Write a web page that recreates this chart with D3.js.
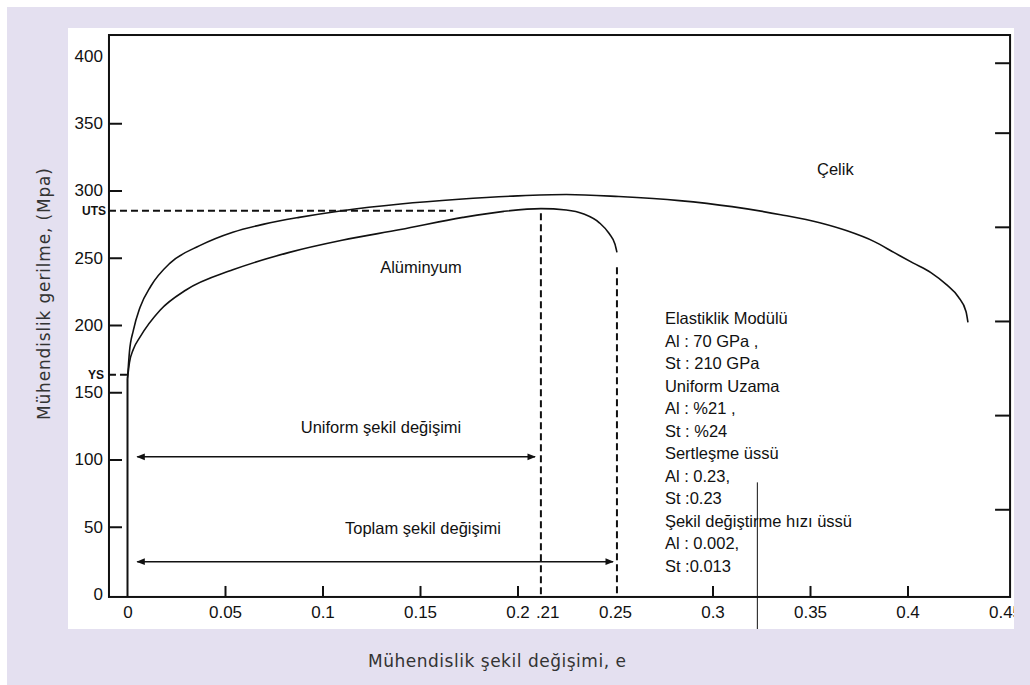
<!DOCTYPE html>
<html>
<head>
<meta charset="utf-8">
<title>Mühendislik gerilme - şekil değişimi</title>
<style>
  body { margin: 0; background: #fff; }
  svg text { font-family: "Liberation Sans", Arial, sans-serif; fill: #111; }
  .title { font-family: "DejaVu Sans", sans-serif; fill: #333; font-size: 17px; }
  .tick text { font-size: 17px; }
</style>
</head>
<body>
<script src="https://cdn.jsdelivr.net/npm/d3@7"></script>
<script>
// curves: strain e, stress MPa (plastic part, the elastic rise is the line at e = 0)
var steelStrain = [0, 0.001, 0.003, 0.0064, 0.012, 0.0218, 0.037, 0.054, 0.07, 0.088, 0.11, 0.14, 0.17, 0.2, 0.225, 0.252, 0.283, 0.31, 0.335, 0.355, 0.369, 0.383, 0.393, 0.403, 0.412, 0.42, 0.426, 0.43, 0.431];
var steelStress = [160, 180, 196, 213, 229, 246, 259, 269, 275, 280, 285, 290, 293.5, 296, 297, 295.5, 292.5, 288, 282, 276, 270, 262, 254, 246, 239, 230, 221, 210, 202];
var alStrain = [0, 0.001, 0.003, 0.0064, 0.0167, 0.03, 0.054, 0.083, 0.11, 0.14, 0.172, 0.193, 0.212, 0.225, 0.234, 0.242, 0.247, 0.25, 0.251];
var alStress = [160, 172, 182, 191, 211, 226, 241, 254, 263, 271, 280, 284.5, 286.5, 285.5, 282.5, 276, 268, 260, 254];

var yLabelValues = [0, 50, 100, 150, 200, 250, 300, 350, 400];
var yTickValues = [50, 100, 150, 200, 250, 300, 350];
var rightTickValues = [63, 133, 203, 273, 343, 395];
var xTickValues = [0.05, 0.1, 0.15, 0.2, 0.3, 0.35, 0.4];
var xLabelValues = [0, 0.05, 0.1, 0.15, 0.2, 0.25, 0.3, 0.35, 0.4, 0.45];
var xLabelTexts = ["0", "0.05", "0.1", "0.15", "0.2", "0.25", "0.3", "0.35", "0.4", "0.45"];

var UTS = 285, YS = 163;
var uniformStrain = 0.212, totalStrain = 0.251;

var infoLines = ["Elastiklik Modülü", "Al : 70 GPa ,", "St : 210 GPa", "Uniform Uzama",
  "Al : %21 ,", "St : %24", "Sertleşme üssü", "Al : 0.23,", "St :0.23",
  "Şekil değiştirme hızı üssü", "Al : 0.002,", "St :0.013"];

var W = 1030, H = 685;
var svg = d3.select("body").append("svg").attr("width", W).attr("height", H)
  .style("display", "block");

svg.append("rect").attr("x", 7).attr("y", 7).attr("width", W - 7).attr("height", H - 7).attr("fill", "#e4e0f0");
svg.append("rect").attr("x", 68).attr("y", 28).attr("width", 946).attr("height", 601).attr("fill", "#fff");
svg.append("clipPath").attr("id", "panel").append("rect")
  .attr("x", 68).attr("y", 28).attr("width", 946).attr("height", 601);

var x = d3.scaleLinear().domain([0, 0.45]).range([127.5, 1005]);
var y = d3.scaleLinear().domain([0, 400]).range([594, 56]);

var g = svg.append("g").attr("clip-path", "url(#panel)");

// frame
var fx0 = x(-0.0095), fx1 = x(0.4526), fy0 = y(-2.2), fy1 = y(415.6);
g.append("rect").attr("x", fx0).attr("y", fy1).attr("width", fx1 - fx0).attr("height", fy0 - fy1)
  .attr("fill", "none").attr("stroke", "#111").attr("stroke-width", 2);

// left ticks (inward) and labels
g.append("g").attr("transform", "translate(" + fx0 + ",0)")
  .call(d3.axisRight(y).tickValues(yTickValues).tickSize(13).tickFormat(""))
  .call(s => s.select(".domain").remove())
  .selectAll("line").attr("stroke", "#111").attr("stroke-width", 2);
g.append("g").attr("transform", "translate(" + fx0 + ",0)")
  .call(d3.axisLeft(y).tickValues(yLabelValues).tickSize(0).tickPadding(6))
  .call(s => s.select(".domain").remove());

// right ticks
g.append("g").attr("transform", "translate(" + fx1 + ",0)")
  .call(d3.axisLeft(y).tickValues(rightTickValues).tickSize(15).tickFormat(""))
  .call(s => s.select(".domain").remove())
  .selectAll("line").attr("stroke", "#111").attr("stroke-width", 2);

// bottom ticks and labels
g.append("g").attr("transform", "translate(0," + fy0 + ")")
  .call(d3.axisTop(x).tickValues(xTickValues).tickSize(11).tickFormat(""))
  .call(s => s.select(".domain").remove())
  .selectAll("line").attr("stroke", "#111").attr("stroke-width", 2);
g.append("g").attr("transform", "translate(0," + fy0 + ")")
  .call(d3.axisBottom(x).tickValues(xLabelValues).tickSize(0).tickPadding(9)
    .tickFormat(function(d, i) { return xLabelTexts[i]; }))
  .call(s => s.select(".domain").remove());
g.append("text").attr("x", x(0.2155)).attr("y", fy0 + 9).attr("dy", "0.71em")
  .attr("text-anchor", "middle").style("font-size", "17px").text(".21");

// elastic rise, shared by both curves
var straight = d3.line().x(d => x(d[0])).y(d => y(d[1]));
g.append("path").attr("d", straight([[0, -2.2], [0, 160]]))
  .attr("stroke", "#111").attr("stroke-width", 2);

// plastic curves
var line = d3.line().x(d => x(d[0])).y(d => y(d[1])).curve(d3.curveMonotoneX);
var steel = steelStrain.map((e, i) => [e, steelStress[i]]);
var alu = alStrain.map((e, i) => [e, alStress[i]]);
[steel, alu].forEach(function(d) {
  g.append("path").datum(d).attr("d", line).attr("fill", "none")
    .attr("stroke", "#111").attr("stroke-width", 1.6);
});

// dashed guides
var dashed = [
  [[-0.0095, UTS], [0.167, UTS]],
  [[-0.0095, YS], [0, YS]],
  [[uniformStrain, 283], [uniformStrain, -2.2]],
  [[totalStrain, 243], [totalStrain, -2.2]]
];
dashed.forEach(function(d) {
  g.append("path").attr("d", straight(d)).attr("stroke", "#111")
    .attr("stroke-width", 2).attr("stroke-dasharray", "7,4").attr("fill", "none");
});

// stray thin line
g.append("path").attr("d", straight([[0.323, 83], [0.323, -30]]))
  .attr("stroke", "#111").attr("stroke-width", 1);

// arrows
var defs = svg.append("defs");
defs.append("marker").attr("id", "ah").attr("viewBox", "0 0 10 10").attr("refX", 9).attr("refY", 5)
  .attr("markerWidth", 6).attr("markerHeight", 6).attr("orient", "auto-start-reverse")
  .append("path").attr("d", "M0,1L10,5L0,9z").attr("fill", "#111");
[[[0.005, 102], [0.209, 102]], [[0.005, 24], [0.249, 24]]].forEach(function(d) {
  g.append("path").attr("d", straight(d)).attr("stroke", "#111").attr("stroke-width", 1.4)
    .attr("marker-start", "url(#ah)").attr("marker-end", "url(#ah)");
});

// UTS / YS labels
g.append("text").attr("x", fx0 - 3).attr("y", y(UTS)).attr("dominant-baseline", "central")
  .attr("text-anchor", "end").style("font-size", "12px").style("font-weight", "bold").text("UTS");
g.append("text").attr("x", fx0 - 5).attr("y", y(YS)).attr("dominant-baseline", "central")
  .attr("text-anchor", "end").style("font-size", "12px").style("font-weight", "bold").text("YS");

// annotations
var notes = [
  {t: "Çelik", e: 0.363, s: 316},
  {t: "Alüminyum", e: 0.1505, s: 243},
  {t: "Uniform şekil değişimi", e: 0.13, s: 124},
  {t: "Toplam şekil değişimi", e: 0.1515, s: 49}
];
notes.forEach(function(n) {
  g.append("text").attr("x", x(n.e)).attr("y", y(n.s)).attr("dominant-baseline", "central")
    .attr("text-anchor", "middle").style("font-size", "16.5px").text(n.t);
});

g.append("g").selectAll("text").data(infoLines).enter().append("text")
  .attr("x", x(0.2756)).attr("y", (d, i) => y(205.2) + i * 22.5)
  .attr("dominant-baseline", "central").style("font-size", "16.5px").text(d => d);

// axis titles
svg.append("text").attr("class", "title").attr("x", 497).attr("y", 661)
  .attr("text-anchor", "middle").attr("dominant-baseline", "central")
  .attr("textLength", 258).text("Mühendislik şekil değişimi, e");
svg.append("text").attr("class", "title").attr("transform", "translate(44,294) rotate(-90)")
  .attr("text-anchor", "middle").attr("dominant-baseline", "central")
  .attr("textLength", 252).text("Mühendislik gerilme, (Mpa)");
</script>
</body>
</html>
